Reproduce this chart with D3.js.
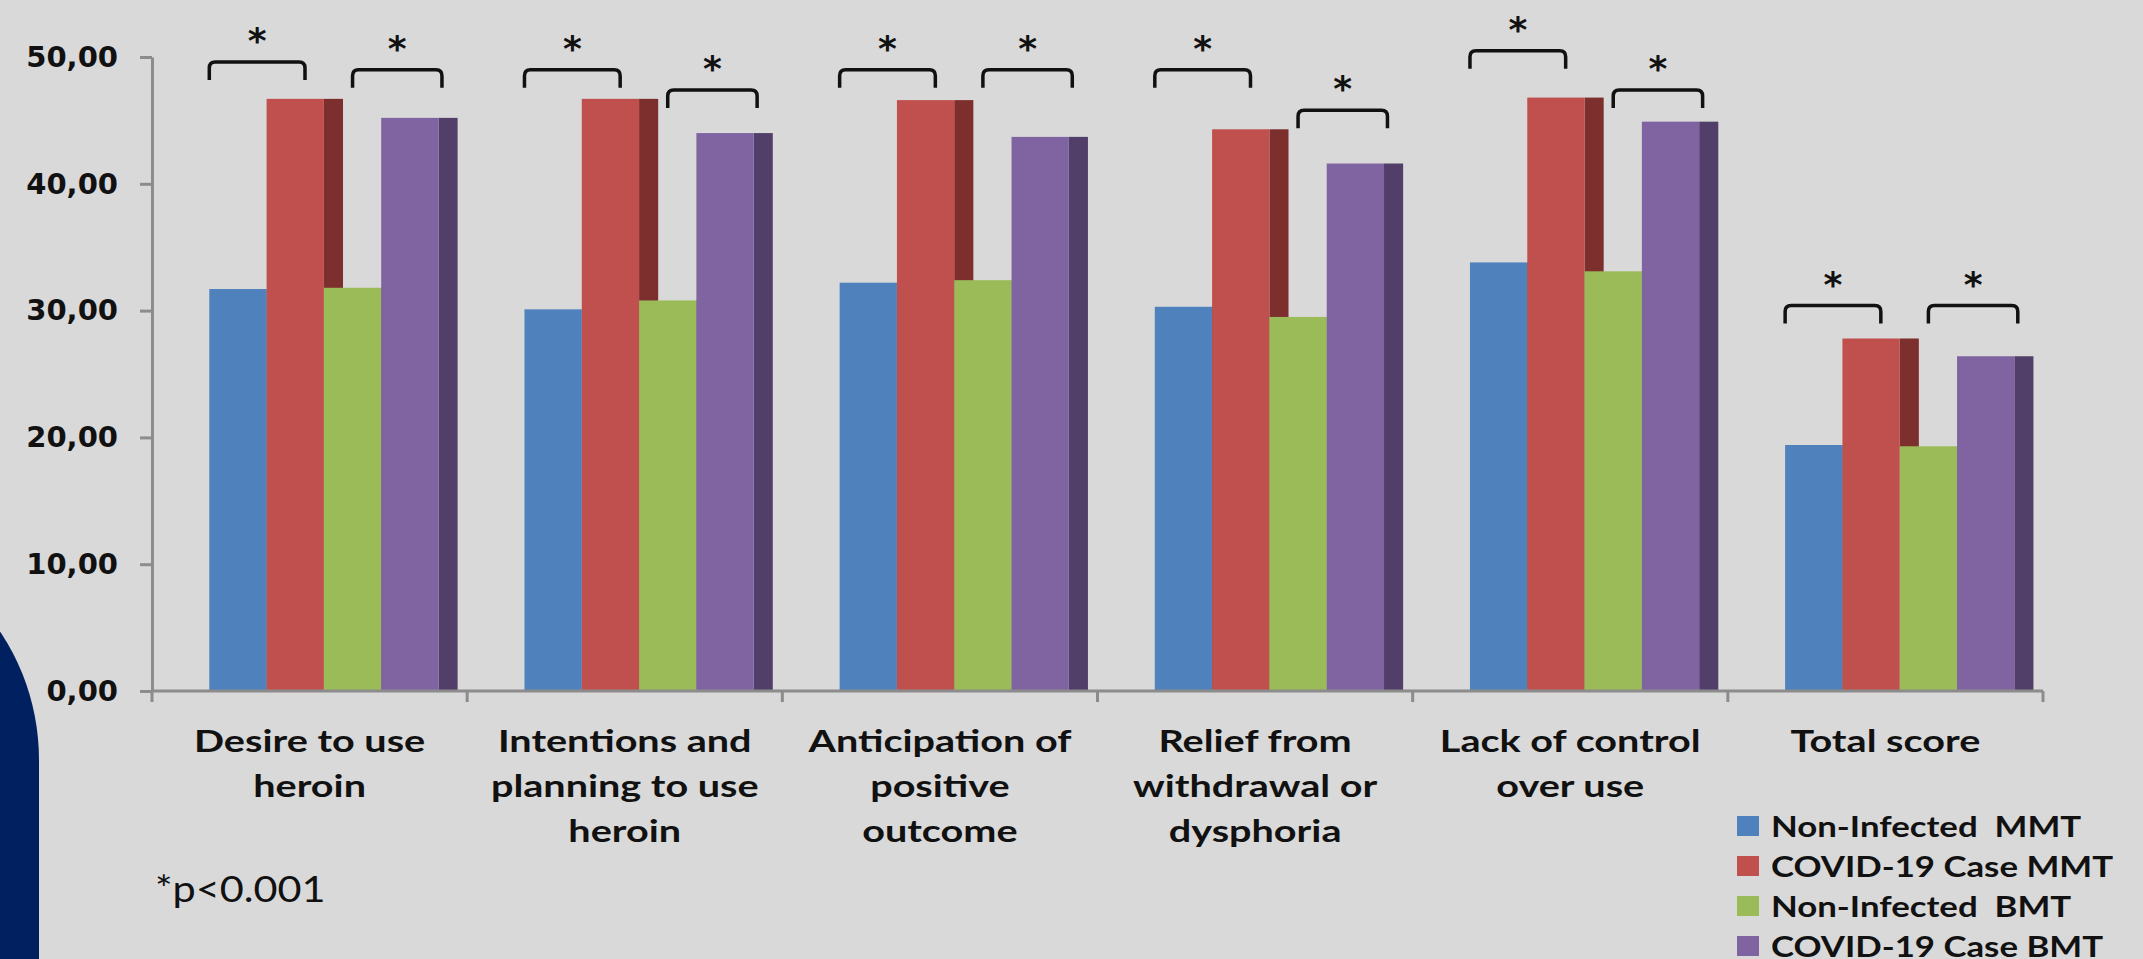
<!DOCTYPE html>
<html>
<head>
<meta charset="utf-8">
<script src="https://cdn.jsdelivr.net/npm/d3@7"></script>
<style>
  body { margin: 0; background: #d9d9d9; overflow: hidden; }
  text { white-space: pre; }
</style>
</head>
<body>
<div id="chart"></div>
<script>
// categories (line breaks as in the original axis labels)
const categories = [
    "Desire to use\nheroin",
    "Intentions and\nplanning to use\nheroin",
    "Anticipation of\npositive\noutcome",
    "Relief from\nwithdrawal or\ndysphoria",
    "Lack of control\nover use",
    "Total score"
];
const seriesNames = ["Non-Infected  MMT", "COVID-19 Case MMT", "Non-Infected  BMT", "COVID-19 Case BMT"];

const nonInfectedMMT = [31.7, 30.1, 32.2, 30.3, 33.8, 19.4];
const covidMMT       = [46.7, 46.7, 46.6, 44.3, 46.8, 27.8];
const nonInfectedBMT = [31.8, 30.8, 32.4, 29.5, 33.1, 19.3];
const covidBMT       = [45.2, 44.0, 43.7, 41.6, 44.9, 26.4];

// height (in score units) of the significance brackets: MMT pair, BMT pair
const bracketMMT = [49.6, 49.0, 49.0, 49.0, 50.5, 30.4];
const bracketBMT = [49.0, 47.4, 49.0, 45.8, 47.4, 30.4];

const yTicks = [0, 10, 20, 30, 40, 50];

function init() {
    const W = 2143, H = 959;
    const colors = ["#4f81bd", "#c0504d", "#9bbb59", "#8064a2"];
    const sideColors = ["#2f5079", "#7d2f2e", "#647a35", "#523f69"];
    const seriesValues = [nonInfectedMMT, covidMMT, nonInfectedBMT, covidBMT];

    const svg = d3.select("#chart").append("svg")
        .attr("width", W)
        .attr("height", H)
        .style("display", "block");

    svg.append("rect").attr("width", W).attr("height", H).attr("fill", "#d9d9d9");

    // dark navy slide decoration at bottom left
    svg.append("rect")
        .attr("x", -400).attr("y", 534)
        .attr("width", 439).attr("height", 700)
        .attr("rx", 226).attr("ry", 226)
        .attr("fill", "#00205f");

    const x0 = d3.scaleBand().domain(categories).range([152, 2043]);
    const bw = x0.bandwidth() / 5.5;
    const depth = bw / 3;
    const x1 = d3.scaleBand().domain(seriesNames).range([bw, 5 * bw]);
    const y = d3.scaleLinear().domain([0, 50]).range([691, 57]);

    // y axis
    const yAxis = svg.append("g")
        .attr("transform", "translate(152,0)")
        .call(d3.axisLeft(y).tickValues(yTicks).tickSize(12).tickSizeOuter(0).tickPadding(22)
            .tickFormat(d => d3.format(".2f")(d).replace(".", ",")));
    yAxis.select(".domain").attr("stroke", "#8c8c8c").attr("stroke-width", 3);
    yAxis.selectAll(".tick line").attr("stroke", "#8c8c8c").attr("stroke-width", 3);
    yAxis.selectAll(".tick text")
        .attr("fill", "#111")
        .style("font-family", "'DejaVu Sans', Verdana, sans-serif")
        .style("font-weight", "bold")
        .style("font-size", "29px");

    // bars with a darker side face
    const groups = svg.append("g").selectAll("g")
        .data(categories)
        .join("g")
        .attr("transform", d => `translate(${x0(d)},0)`);

    groups.each(function(cat, ci) {
        const g = d3.select(this);
        seriesNames.forEach((s, si) => {
            const v = seriesValues[si][ci];
            g.append("rect")
                .attr("x", x1(s) + x1.bandwidth())
                .attr("y", y(v))
                .attr("width", depth)
                .attr("height", y(0) - y(v))
                .attr("fill", sideColors[si]);
            g.append("rect")
                .attr("x", x1(s))
                .attr("y", y(v))
                .attr("width", x1.bandwidth())
                .attr("height", y(0) - y(v))
                .attr("fill", colors[si]);
        });
    });

    // x axis line and category dividers
    const xa = svg.append("g").attr("stroke", "#8c8c8c").attr("stroke-width", 3);
    xa.append("line")
        .attr("x1", x0.range()[0]).attr("x2", x0.range()[1])
        .attr("y1", y(0)).attr("y2", y(0));
    const bounds = categories.map(c => x0(c)).concat([x0.range()[1]]);
    xa.selectAll("line.div")
        .data(bounds)
        .join("line")
        .attr("class", "div")
        .attr("x1", d => d).attr("x2", d => d)
        .attr("y1", y(0)).attr("y2", y(0) + 11);

    // category labels, slightly stretched like the original slide
    const labelStretch = 1.32;
    groups.each(function(cat) {
        const lines = cat.split("\n");
        const cx = x0.bandwidth() / 2;
        lines.forEach((ln, li) => {
            d3.select(this).append("text")
                .attr("transform", `translate(${cx},${752 + li * 45}) scale(${labelStretch},1)`)
                .attr("text-anchor", "middle")
                .style("font-family", "Lato, 'Open Sans', sans-serif")
                .style("font-weight", "bold")
                .style("font-size", "30px")
                .attr("fill", "#111")
                .text(ln);
        });
    });

    // significance brackets
    function bracket(g, xa, xb, level) {
        const yt = y(level), leg = 18, r = 6;
        g.append("path")
            .attr("d", `M${xa},${yt + leg} L${xa},${yt + r} Q${xa},${yt} ${xa + r},${yt} ` +
                       `L${xb - r},${yt} Q${xb},${yt} ${xb},${yt + r} L${xb},${yt + leg}`)
            .attr("fill", "none")
            .attr("stroke", "#111")
            .attr("stroke-width", 3.5);
        g.append("text")
            .attr("x", (xa + xb) / 2)
            .attr("y", yt - 28 + 19)
            .attr("text-anchor", "middle")
            .style("font-family", "'DejaVu Sans', sans-serif")
            .style("font-weight", "bold")
            .style("font-size", "36px")
            .attr("fill", "#111")
            .text("*");
    }
    groups.each(function(cat, ci) {
        const g = d3.select(this);
        const bx = x1(seriesNames[0]);
        const gx = x1(seriesNames[2]);
        bracket(g, bx, bx + 1.67 * bw, bracketMMT[ci]);
        bracket(g, gx + 0.5 * bw, gx + 2.06 * bw, bracketBMT[ci]);
    });

    // footnote
    svg.append("text")
        .attr("transform", "translate(155,902) scale(1.15,1)")
        .style("font-family", "Lato, 'Open Sans', sans-serif")
        .style("font-size", "36px")
        .attr("fill", "#111")
        .text("*p<0.001");

    // legend
    const legend = svg.append("g").attr("transform", "translate(1737,816)");
    const items = legend.selectAll("g")
        .data(seriesNames)
        .join("g")
        .attr("transform", (d, i) => `translate(0,${i * 40})`);
    items.append("rect")
        .attr("width", 22).attr("height", 20)
        .attr("fill", (d, i) => colors[i]);
    items.append("text")
        .attr("transform", "translate(34,21) scale(1.2,1)")
        .style("font-family", "Lato, 'Open Sans', sans-serif")
        .style("font-weight", "bold")
        .style("font-size", "29px")
        .attr("fill", "#111")
        .text(d => d);
}

window.onload = init;
</script>
</body>
</html>
